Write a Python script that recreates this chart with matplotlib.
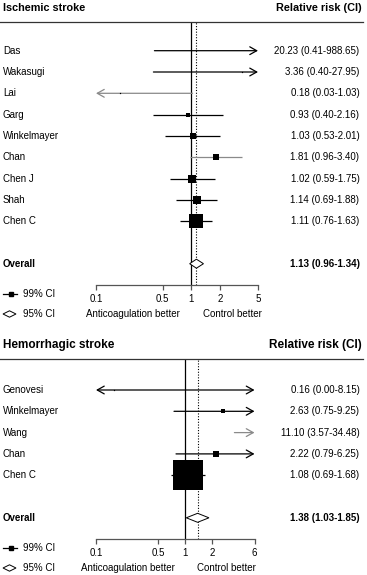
import matplotlib
matplotlib.use("Agg")
import matplotlib.pyplot as plt
import numpy as np
from matplotlib.transforms import blended_transform_factory
from matplotlib.patches import Polygon
from matplotlib.lines import Line2D

plt.rcParams['font.family'] = ['Liberation Sans', 'DejaVu Sans']

# ---------------- data ----------------
isch_studies = ["Das", "Wakasugi", "Lai", "Garg", "Winkelmayer", "Chan", "Chen J", "Shah", "Chen C"]
isch_rr = [20.23, 3.36, 0.18, 0.93, 1.03, 1.81, 1.02, 1.14, 1.11]
isch_lo = [0.41, 0.40, 0.03, 0.40, 0.53, 0.96, 0.59, 0.69, 0.76]
isch_hi = [988.65, 27.95, 1.03, 2.16, 2.01, 3.40, 1.75, 1.88, 1.63]
isch_weight = [0.03, 0.2, 0.2, 2.3, 5.9, 7.5, 11.1, 15.8, 45.0]
isch_overall = (1.13, 0.96, 1.34)
isch_ticks = [0.1, 0.5, 1, 2, 5]

hem_studies = ["Genovesi", "Winkelmayer", "Wang", "Chan", "Chen C"]
hem_rr = [0.16, 2.63, 11.10, 2.22, 1.08]
hem_lo = [0.00, 0.75, 3.57, 0.79, 0.69]
hem_hi = [8.15, 9.25, 34.48, 6.25, 1.68]
hem_weight = [0.1, 1.65, 0.5, 3.7, 90.0]
hem_overall = (1.38, 1.03, 1.85)
hem_ticks = [0.1, 0.5, 1, 2, 6]

# ---------------- layout helpers ----------------
W, H = 367, 575
FS = 7
fig = plt.figure(figsize=(W / 100, H / 100), dpi=100)


def fx(x):
    return x / W


def fy(y):
    return 1 - y / H


def fmt(v):
    return f"{v[0]:.2f} ({v[1]:.2f}-{v[2]:.2f})"


def panel(title, studies, rr, lo, hi, weight, overall, ticks,
          left, right, top, bottom, row0, step, max_box, gray_rows,
          title_size, legend_y, anti_x, ctrl_x, overall_row):
    ax = fig.add_axes([fx(left), fy(bottom), fx(right - left), (bottom - top) / H])
    ax.set_xscale('log')
    xmin, xmax = ticks[0], ticks[-1]
    ax.set_xlim(xmin, xmax)
    ax.set_ylim((bottom - row0) / step, (top - row0) / step)
    for s in ['top', 'left', 'right']:
        ax.spines[s].set_visible(False)
    ax.spines['bottom'].set_color('#555555')
    ax.spines['bottom'].set_linewidth(0.9)
    ax.set_yticks([])
    ax.set_xticks(ticks)
    ax.set_xticklabels([f"{t:g}" for t in ticks])
    ax.xaxis.set_minor_locator(matplotlib.ticker.NullLocator())
    ax.tick_params(axis='x', length=3.5, width=0.9, color='#555555', labelsize=FS, pad=3)
    ax.patch.set_alpha(0)

    # reference lines
    ax.axvline(1, color='black', lw=0.9, zorder=1)
    ax.axvline(overall[0], color='black', lw=0.8, ls=(0, (1, 1.5)), zorder=1)

    wmax = max(weight)
    for i, (r, l, h, w) in enumerate(zip(rr, lo, hi, weight)):
        col = '#8a8a8a' if i in gray_rows else 'black'
        a = max(l, xmin)
        b = min(h, xmax)
        if l < xmin and h > xmax:
            style = '<->'
        elif l < xmin:
            style = '<-'
        elif h > xmax:
            style = '->'
        else:
            style = '-'
        if style == '-':
            ax.plot([a, b], [i, i], color=col, lw=0.9, zorder=2, solid_capstyle='butt')
        else:
            ax.annotate('', xy=(b, i), xytext=(a, i),
                        arrowprops=dict(arrowstyle=style + ',head_length=0.5,head_width=0.28',
                                        color=col, lw=0.9, shrinkA=0, shrinkB=0),
                        annotation_clip=False, zorder=2)
        if xmin <= r <= xmax:
            side = max(max_box * np.sqrt(w / wmax), 1.2)
            ax.plot([r], [i], marker='s', ms=side * 0.72, mfc='black', mec='black',
                    mew=0, ls='none', zorder=3)

    # overall diamond
    est, dlo, dhi = overall
    hh = 4.5 / step
    ax.add_patch(Polygon([(dlo, overall_row), (est, overall_row - hh), (dhi, overall_row),
                          (est, overall_row + hh)], closed=True, facecolor='white',
                         edgecolor='black', lw=0.7, zorder=4))

    # text columns
    tr = blended_transform_factory(fig.transFigure, ax.transData)
    for i, s in enumerate(studies):
        ax.text(fx(3), i, s, transform=tr, ha='left', va='center', fontsize=FS)
        ax.text(fx(359.5), i, fmt((rr[i], lo[i], hi[i])), transform=tr,
                ha='right', va='center', fontsize=FS)
    ax.text(fx(3), overall_row, "Overall", transform=tr, ha='left', va='center',
            fontsize=FS, fontweight='bold')
    ax.text(fx(359.5), overall_row, fmt(overall), transform=tr, ha='right', va='center',
            fontsize=FS, fontweight='bold')

    # header
    fig.text(fx(3), fy(top - 14), title, ha='left', va='center', fontsize=title_size,
             fontweight='bold')
    fig.text(fx(362), fy(top - 14), "Relative risk (CI)", ha='right', va='center',
             fontsize=title_size, fontweight='bold')
    fig.add_artist(Line2D([fx(0), fx(363)], [fy(top), fy(top)], color='#333333', lw=0.9))

    # legend
    y1, y2 = legend_y
    fig.add_artist(Line2D([fx(3), fx(17)], [fy(y1), fy(y1)], color='black', lw=0.9))
    fig.add_artist(Line2D([fx(11)], [fy(y1)], marker='s', ms=3.2, color='black', ls='none'))
    fig.text(fx(23), fy(y1), "99% CI", ha='left', va='center', fontsize=FS)
    fig.add_artist(Polygon([(fx(3), fy(y2)), (fx(9.5), fy(y2 - 3.2)), (fx(16), fy(y2)),
                            (fx(9.5), fy(y2 + 3.2))], closed=True, facecolor='white',
                           edgecolor='black', lw=0.7, transform=fig.transFigure))
    fig.text(fx(23), fy(y2), "95% CI", ha='left', va='center', fontsize=FS)
    fig.text(fx(anti_x), fy(y2), "Anticoagulation better", ha='center', va='center',
             fontsize=FS)
    fig.text(fx(ctrl_x), fy(y2), "Control better", ha='center', va='center', fontsize=FS)
    return ax


panel("Ischemic stroke", isch_studies, isch_rr, isch_lo, isch_hi, isch_weight,
      isch_overall, isch_ticks, left=96, right=258, top=22, bottom=285,
      row0=50.7, step=21.3, max_box=14.7, gray_rows={2, 5}, title_size=7.8,
      legend_y=(294, 314), anti_x=132.5, ctrl_x=232, overall_row=10)

panel("Hemorrhagic stroke", hem_studies, hem_rr, hem_lo, hem_hi, hem_weight,
      hem_overall, hem_ticks, left=96, right=254.5, top=359, bottom=538.5,
      row0=390, step=21.3, max_box=29.5, gray_rows={2}, title_size=8.5,
      legend_y=(548, 568), anti_x=128, ctrl_x=226, overall_row=6)

fig.savefig("out.png", dpi=100)
